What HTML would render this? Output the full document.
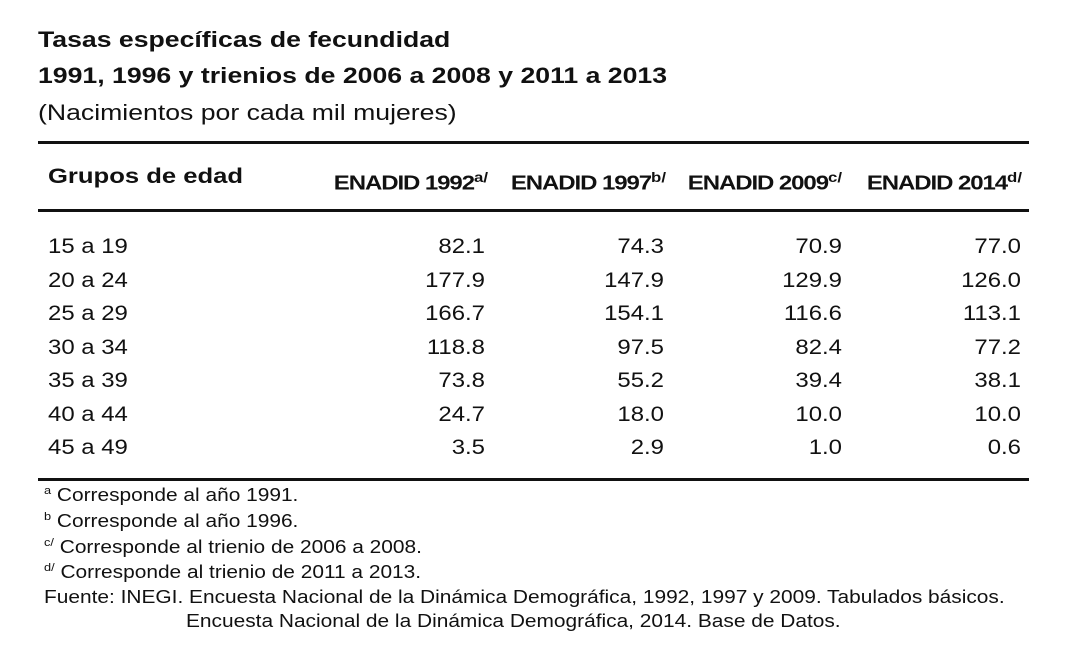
<!DOCTYPE html>
<html><head><meta charset="utf-8"><style>
body{margin:0;width:1081px;height:666px;background:#fff;position:relative;font-family:"Liberation Sans",sans-serif;color:#111;overflow:hidden}
.a{position:absolute;white-space:nowrap;transform-origin:0 50%}
.t{font-weight:bold;font-size:22px;transform:scaleX(1.21)}
.r{position:absolute;left:38px;width:991px;background:#111}
.v{position:absolute;font-size:21px;text-align:right;width:150px;transform:scaleX(1.14);transform-origin:100% 50%}
.h{position:absolute;font-weight:bold;font-size:20px;letter-spacing:-0.9px;text-align:right;width:180px;transform:scaleX(1.2);transform-origin:100% 50%;white-space:nowrap}
.h sup{font-size:14px;letter-spacing:0}
.f{position:absolute;left:44px;font-size:18px;white-space:nowrap;transform:scaleX(1.16);transform-origin:0 50%}
.f sup{font-size:11px}
.l{font-size:21px;transform:scaleX(1.14)}
</style></head><body>
<div class="a t" style="left:38px;top:27px">Tasas específicas de fecundidad</div>
<div class="a t" style="left:38px;top:63px">1991, 1996 y trienios de 2006 a 2008 y 2011 a 2013</div>
<div class="a" style="left:38px;top:100px;font-size:22px;transform:scaleX(1.21)">(Nacimientos por cada mil mujeres)</div>
<div class="r" style="top:141px;height:3px"></div>
<div class="a" style="left:48px;top:165px;font-weight:bold;font-size:21px;transform:scaleX(1.22)">Grupos de edad</div>
<div class="h" style="left:308px;top:169px">ENADID 1992<sup>a/</sup></div>
<div class="h" style="left:486px;top:169px">ENADID 1997<sup>b/</sup></div>
<div class="h" style="left:662px;top:169px">ENADID 2009<sup>c/</sup></div>
<div class="h" style="left:842px;top:169px">ENADID 2014<sup>d/</sup></div>
<div class="r" style="top:209px;height:3px"></div>
<div id="rows"></div>
<div class="r" style="top:478px;height:3px"></div>
<div class="f" style="top:485px"><sup>a</sup> Corresponde al año 1991.</div>
<div class="f" style="top:511px"><sup>b</sup> Corresponde al año 1996.</div>
<div class="f" style="top:537px"><sup>c/</sup> Corresponde al trienio de 2006 a 2008.</div>
<div class="f" style="top:562px"><sup>d/</sup> Corresponde al trienio de 2011 a 2013.</div>
<div class="f" style="top:587px">Fuente: INEGI. Encuesta Nacional de la Dinámica Demográfica, 1992, 1997 y 2009. Tabulados básicos.</div>
<div class="f" style="left:186px;top:611px">Encuesta Nacional de la Dinámica Demográfica, 2014. Base de Datos.</div>
<script>
var d=[["15 a 19","82.1","74.3","70.9","77.0"],["20 a 24","177.9","147.9","129.9","126.0"],["25 a 29","166.7","154.1","116.6","113.1"],["30 a 34","118.8","97.5","82.4","77.2"],["35 a 39","73.8","55.2","39.4","38.1"],["40 a 44","24.7","18.0","10.0","10.0"],["45 a 49","3.5","2.9","1.0","0.6"]];
var R=[485,664,842,1021],h="";
d.forEach(function(r,i){var y=235+i*33.5;
h+='<div class="a l" style="left:48px;top:'+y+'px">'+r[0]+'</div>';
for(var j=0;j<4;j++)h+='<div class="v" style="left:'+(R[j]-150)+'px;top:'+y+'px">'+r[j+1]+'</div>';});
document.getElementById("rows").innerHTML=h;
</script>
</body></html>
